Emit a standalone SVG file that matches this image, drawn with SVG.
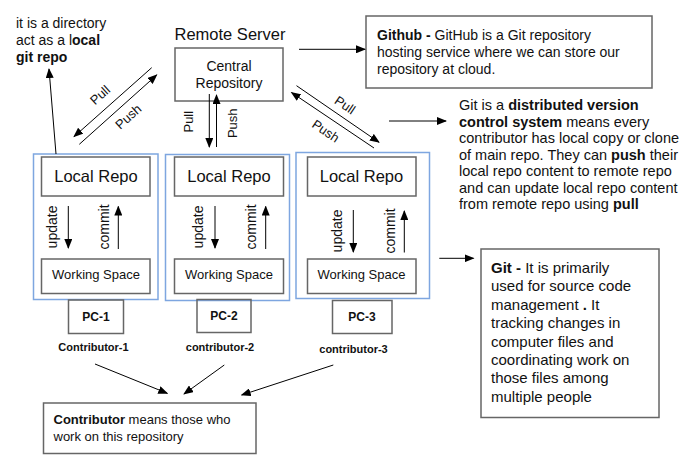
<svg xmlns="http://www.w3.org/2000/svg" width="684" height="467" viewBox="0 0 684 467">
<defs>
<marker id="ah" markerWidth="10" markerHeight="8" refX="9" refY="4" orient="auto" markerUnits="userSpaceOnUse"><path d="M0,0 L10,4 L0,8 z" fill="#000"/></marker>
<style>
text{font-family:"Liberation Sans",Arial,sans-serif;fill:#111}
.box{fill:none;stroke:#666;stroke-width:1.5}
.grp{fill:none;stroke:#7ea6e0;stroke-width:1.5}
.ln{stroke:#000;stroke-width:1;fill:none}
.arr{stroke:#000;stroke-width:1;fill:none;marker-end:url(#ah)}
.b{font-weight:bold}
.lbl{font-size:13px;text-anchor:middle}
.lr{font-size:16.5px;text-anchor:middle}
.ws{font-size:13px;text-anchor:middle}
.uc{font-size:14px;text-anchor:middle}
.pc{font-size:12px;font-weight:bold;text-anchor:middle}
.ct{font-size:11px;font-weight:bold;text-anchor:middle}
</style>
</defs>
<rect width="684" height="467" fill="#fff"/>

<g id="note-local">
<text x="16" y="27.5" font-size="14">it is a directory</text>
<text x="16" y="44.5" font-size="14">act as a l<tspan class="b">ocal</tspan></text>
<text x="16" y="61.5" font-size="14" class="b">git repo</text>
</g>

<g id="remote-server">
<text x="230" y="40" font-size="16.5" text-anchor="middle">Remote Server</text>
<rect class="box" x="175" y="48" width="108" height="53"/>
<text x="229" y="71" font-size="14" text-anchor="middle">Central</text>
<text x="229" y="88" font-size="14" text-anchor="middle">Repository</text>
</g>

<g id="github-note">
<rect class="box" x="366" y="16" width="286" height="72"/>
<text x="377" y="39.5" font-size="14"><tspan class="b">Github - </tspan>GitHub is a Git repository</text>
<text x="377" y="56.5" font-size="14">hosting service where we can store our</text>
<text x="377" y="73.5" font-size="14">repository at cloud.</text>
</g>

<g id="dvcs-note" font-size="14.5">
<text x="459" y="110">Git is a <tspan class="b">distributed version</tspan></text>
<text x="459" y="126.5"><tspan class="b">control system</tspan> means every</text>
<text x="459" y="143">contributor has local copy or clone</text>
<text x="459" y="159.5">of main repo. They can <tspan class="b">push</tspan> their</text>
<text x="459" y="176">local repo content to remote repo</text>
<text x="459" y="192.5">and can update local repo content</text>
<text x="459" y="209">from remote repo using <tspan class="b">pull</tspan></text>
</g>

<g id="pc1">
<rect class="grp" x="33.5" y="154" width="124.5" height="145.5"/>
<rect class="box" x="41.5" y="157" width="108.5" height="39"/>
<text class="lr" x="96" y="182">Local Repo</text>
<rect class="box" x="41.5" y="259" width="108.5" height="34.5"/>
<text class="ws" x="96" y="279">Working Space</text>
<line class="arr" x1="68.3" y1="206" x2="68.3" y2="248"/>
<line class="arr" x1="118.3" y1="249" x2="118.3" y2="206.5"/>
<text class="uc" transform="translate(56.5,227) rotate(-90)">update</text>
<text class="uc" transform="translate(109,227) rotate(-90)">commit</text>
<rect class="box" x="68.5" y="300" width="55" height="33.5"/>
<text class="pc" x="96" y="321">PC-1</text>
<text class="ct" x="93.5" y="351">Contributor-1</text>
</g>

<g id="pc2">
<rect class="grp" x="165.5" y="154.5" width="124" height="146"/>
<rect class="box" x="174.5" y="157" width="109" height="39"/>
<text class="lr" x="229" y="182">Local Repo</text>
<rect class="box" x="174.5" y="259" width="109" height="34.5"/>
<text class="ws" x="229" y="279">Working Space</text>
<line class="arr" x1="215" y1="206" x2="215" y2="248"/>
<line class="arr" x1="265.7" y1="249" x2="265.7" y2="206.5"/>
<text class="uc" transform="translate(203,227) rotate(-90)">update</text>
<text class="uc" transform="translate(255.5,227) rotate(-90)">commit</text>
<rect class="box" x="197" y="299.5" width="54" height="33"/>
<text class="pc" x="224" y="320">PC-2</text>
<text class="ct" x="220" y="351">contributor-2</text>
</g>

<g id="pc3">
<rect class="grp" x="296" y="152.5" width="133.5" height="146"/>
<rect class="box" x="307.5" y="157" width="108.5" height="39"/>
<text class="lr" x="361.5" y="182">Local Repo</text>
<rect class="box" x="307.5" y="259" width="108.5" height="34.5"/>
<text class="ws" x="361.5" y="279">Working Space</text>
<line class="arr" x1="353.3" y1="210" x2="353.3" y2="252"/>
<line class="arr" x1="404.3" y1="252.5" x2="404.3" y2="211"/>
<text class="uc" transform="translate(341.5,231) rotate(-90)">update</text>
<text class="uc" transform="translate(395,231) rotate(-90)">commit</text>
<rect class="box" x="332.5" y="300.5" width="59.5" height="33"/>
<text class="pc" x="362" y="321">PC-3</text>
<text class="ct" x="353.5" y="352.5">contributor-3</text>
</g>

<g id="git-note">
<rect class="box" x="481" y="249" width="178" height="168.5"/>
<g font-size="15">
<text x="491" y="273"><tspan class="b">Git - </tspan>It is primarily</text>
<text x="491" y="291.4">used for source code</text>
<text x="491" y="309.8">management<tspan class="b"> . </tspan>It</text>
<text x="491" y="328.2">tracking changes in</text>
<text x="491" y="346.6">computer files and</text>
<text x="491" y="365">coordinating work on</text>
<text x="491" y="383.4">those files among</text>
<text x="491" y="401.8">multiple people</text>
</g>
</g>

<g id="contributor-note">
<rect class="box" x="43.5" y="403" width="212.5" height="50.5"/>
<text x="53.5" y="424" font-size="13"><tspan class="b">Contributor</tspan> means those who</text>
<text x="53.5" y="441" font-size="13">work on this repository</text>
</g>

<g id="connectors">
<line class="arr" x1="56" y1="154" x2="49" y2="69"/>
<line class="arr" x1="151.7" y1="67.7" x2="74" y2="136.7"/>
<line class="arr" x1="79.3" y1="144.3" x2="156.7" y2="75"/>
<text class="lbl" transform="translate(100,95) rotate(-42)" dy="4.5">Pull</text>
<text class="lbl" transform="translate(128.3,116.7) rotate(-42)" dy="4.5">Push</text>
<line class="arr" x1="209.3" y1="94" x2="209.3" y2="147"/>
<line class="arr" x1="216.5" y1="147" x2="216.5" y2="95"/>
<text class="lbl" transform="translate(188.5,121.7) rotate(-90)" dy="4.5">Pull</text>
<text class="lbl" transform="translate(232.3,123.3) rotate(-90)" dy="4.5">Push</text>
<line class="arr" x1="296.5" y1="85.7" x2="379" y2="142.3"/>
<line class="arr" x1="374" y1="148" x2="291.5" y2="92.5"/>
<text class="lbl" transform="translate(345,105) rotate(34)" dy="4.5">Pull</text>
<text class="lbl" transform="translate(325.7,131) rotate(34)" dy="4.5">Push</text>
<line class="arr" x1="299" y1="49.3" x2="365" y2="49.3"/>
<line class="arr" x1="389" y1="121" x2="446" y2="121"/>
<line class="arr" x1="439.3" y1="258.3" x2="473.5" y2="258.3"/>
<line class="arr" x1="95" y1="364" x2="167.3" y2="393.3"/>
<line class="arr" x1="224.3" y1="365" x2="184" y2="394"/>
<line class="arr" x1="333.3" y1="365" x2="241.7" y2="395"/>
</g>
</svg>
